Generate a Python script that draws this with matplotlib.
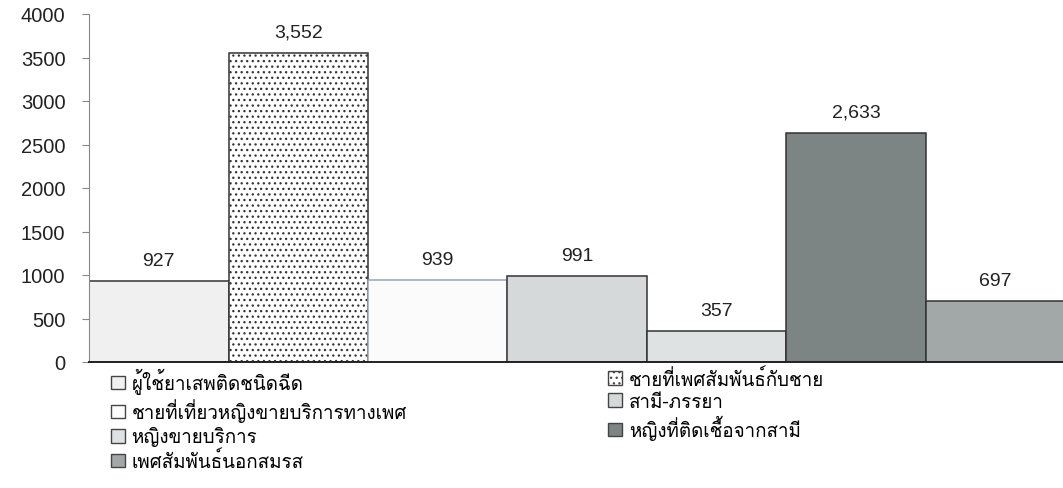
import matplotlib
matplotlib.use("Agg")
import matplotlib.pyplot as plt
from matplotlib import font_manager
from matplotlib.ft2font import FT2Font
from matplotlib.patches import Patch

# data
groups = ["ผู้ใช้ยาเสพติดชนิดฉีด",
          "ชายที่เพศสัมพันธ์กับชาย",
          "ชายที่เที่ยวหญิงขายบริการทางเพศ",
          "สามี-ภรรยา",
          "หญิงขายบริการ",
          "หญิงที่ติดเชื้อจากสามี",
          "เพศสัมพันธ์นอกสมรส"]
cases = [927, 3552, 939, 991, 357, 2633, 697]
yticks = [0, 500, 1000, 1500, 2000, 2500, 3000, 3500, 4000]

fills = ["#f0f0f0", "#ffffff", "#fbfbfb", "#d6d9d9", "#dfe2e2", "#7c8484", "#a2a7a7"]
edges = ["#333333", "#333333", "#9aa4b0", "#333333", "#333333", "#333333", "#333333"]
hatches = [None, "...", None, None, None, None, None]

# look for any installed font that has thai glyphs
thai_font = None
for f in font_manager.fontManager.ttflist:
    try:
        if 0x0E01 in FT2Font(f.fname).get_charmap():
            thai_font = f.name
            if f.weight in (400, "normal", "regular"):
                break
    except Exception:
        pass
fams = ([thai_font] if thai_font else []) + ["Liberation Sans", "DejaVu Sans"]
plt.rcParams["font.family"] = fams
plt.rcParams["hatch.linewidth"] = 0.9
num_font = ["Liberation Sans", "DejaVu Sans"]

W, H = 1063, 489
fig = plt.figure(figsize=(W / 100, H / 100), dpi=100)
ax = fig.add_axes([89 / W, 126 / H, 7 * 139.5 / W, 348 / H])

x = range(len(cases))
bars = ax.bar(x, cases, width=1.0, color=fills, edgecolor=edges, linewidth=1.1)
for b, h in zip(bars, hatches):
    if h:
        b.set_hatch(h)

for i, v in enumerate(cases):
    ax.text(i, v + 140, f"{v:,}" if v >= 1000 else str(v), ha="center", va="bottom",
            fontsize=14, family=num_font, color="#222222")

ax.set_xlim(-0.5, 6.5)
ax.set_ylim(0, 4000)
ax.set_yticks(yticks)
ax.set_yticklabels([str(t) for t in yticks], family=num_font, fontsize=14.5, color="#222222")
ax.set_xticks([])
for s in ["top", "right"]:
    ax.spines[s].set_visible(False)
ax.spines["left"].set_color("#888888")
ax.spines["bottom"].set_color("#222222")
ax.spines["bottom"].set_linewidth(1.4)
ax.tick_params(axis="y", length=5, color="#888888", pad=12)

handles = [Patch(facecolor=fills[i], edgecolor="#444444", hatch=hatches[i]) for i in range(7)]
leg_kw = dict(frameon=False, fontsize=13.5, handlelength=0.75, handleheight=0.75,
              handletextpad=0.35, labelspacing=0.22, borderaxespad=0, borderpad=0)
fig.legend([handles[i] for i in (0, 2, 4, 6)], [groups[i] for i in (0, 2, 4, 6)],
           loc="upper left", bbox_to_anchor=(111 / W, 1 - 369 / H), **leg_kw)
fig.legend([handles[i] for i in (1, 3, 5)], [groups[i] for i in (1, 3, 5)],
           loc="upper left", bbox_to_anchor=(608 / W, 1 - 369 / H), **leg_kw)

fig.savefig("out.png", dpi=100)
